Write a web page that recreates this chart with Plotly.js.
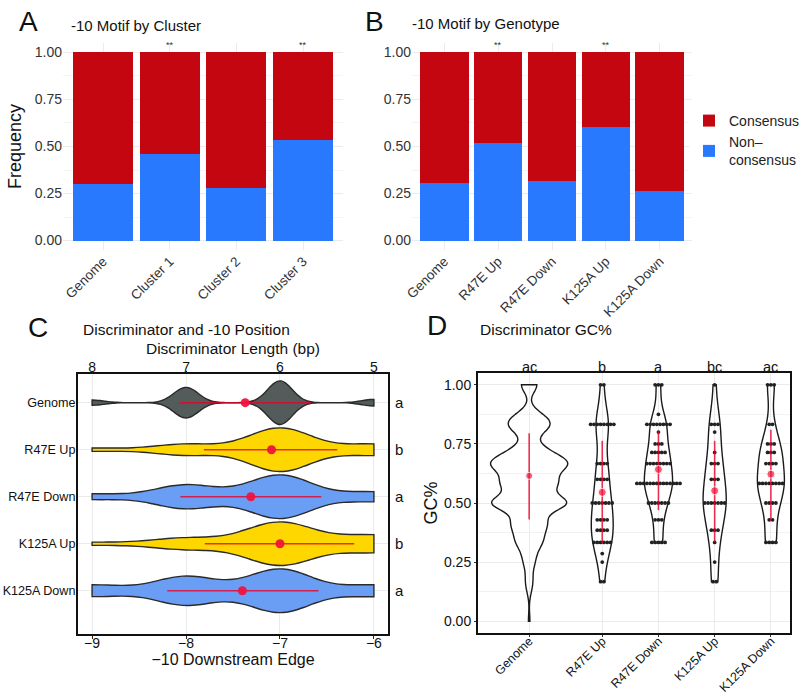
<!DOCTYPE html>
<html>
<head>
<meta charset="utf-8">
<script src="https://cdn.plot.ly/plotly-3.0.1.min.js"></script>
<style>
  html, body { margin: 0; padding: 0; background: #fff; }
  #plot01 { width: 800px; height: 695px; }
</style>
</head>
<body>
<div id="plot01"></div>
<script>
// A: -10 motif by cluster (fraction non-consensus)
const clusterNames = ['Genome', 'Cluster 1', 'Cluster 2', 'Cluster 3'];
const clusterNonConsensus = [0.30, 0.46, 0.28, 0.535];
const clusterSig = ['', '**', '', '**'];

// B: -10 motif by genotype
const genotypeNames = ['Genome', 'R47E Up', 'R47E Down', 'K125A Up', 'K125A Down'];
const genotypeNonConsensus = [0.305, 0.52, 0.315, 0.605, 0.265];
const genotypeSig = ['', '**', '', '**', ''];

// C: -10 downstream edge, counts per position
const edgePositions = [-9, -8, -7, -6];
const edgeCounts = [
    [12, 70, 100, 15],   // Genome
    [2, 7, 27, 7],       // R47E Up
    [4, 17, 31, 7],      // R47E Down
    [1, 4, 15, 6],       // K125A Up
    [4, 10, 15, 4],      // K125A Down
];
const edgeMean = [-7.37, -7.09, -7.31, -7.00, -7.40];
const edgeLow = [-8.07, -7.81, -8.06, -7.80, -8.20];
const edgeHigh = [-6.67, -6.39, -6.56, -6.21, -6.59];
const edgeLetters = ['a', 'b', 'a', 'b', 'a'];
const lengthTicks = [8, 7, 6, 5];

// D: discriminator GC%, counts per GC level
const gcGenomeLevels = [1, 0.875, 0.857, 0.833, 0.8, 0.75, 0.714, 0.667, 0.625, 0.6, 0.571, 0.5,
    0.429, 0.4, 0.375, 0.333, 0.286, 0.25, 0.2, 0.167, 0.143, 0.125, 0];
const gcGenomeCounts = [21, 14, 8, 36, 14, 8, 35, 80, 20, 25, 45, 95,
    28, 15, 15, 25, 8, 10, 4, 5, 2, 2, 2];
const gcR47EUpLevels = [1, 0.833, 0.667, 0.6, 0.5, 0.429, 0.385, 0.333, 0.286, 0.25, 0.167];
const gcR47EUpCounts = [2, 8, 4, 4, 7, 4, 4, 6, 1, 1, 2];
const gcR47EDownLevels = [1, 0.875, 0.833, 0.8, 0.75, 0.714, 0.667, 0.583, 0.5, 0.429, 0.333];
const gcR47EDownCounts = [3, 1, 8, 1, 3, 5, 8, 14, 7, 3, 5];
const gcK125AUpLevels = [1, 0.833, 0.8, 0.714, 0.667, 0.6, 0.5, 0.385, 0.333, 0.25, 0.167];
const gcK125AUpCounts = [1, 3, 1, 1, 3, 3, 7, 3, 1, 1, 2];
const gcK125ADownLevels = [1, 0.833, 0.75, 0.714, 0.667, 0.583, 0.5, 0.429, 0.333];
const gcK125ADownCounts = [3, 2, 3, 3, 4, 8, 4, 2, 4];
const gcMean = [0.615, 0.545, 0.642, 0.552, 0.622];
const gcLow = [0.43, 0.332, 0.47, 0.335, 0.425];
const gcHigh = [0.795, 0.763, 0.805, 0.763, 0.81];
const gcLetters = ['ac', 'b', 'a', 'bc', 'ac'];
const gcPositions = [0, 1.3, 2.3, 3.3, 4.3];

const RED = '#C3060F';
const BLUE = '#2979FF';
const FONT = 'Liberation Sans, Arial, sans-serif';
const GRID = '#EBEBEB';

function expand(levels, counts) {
    const out = [];
    levels.forEach((v, k) => { for (let i = 0; i < counts[k]; i++) out.push(v); });
    return out;
}

// paper coordinates from pixel positions
const px = v => v / 800;
const py = v => 1 - v / 695;

function initPlot() {
    const data = [];

    // ---- A & B stacked bars
    data.push({
        type: 'bar', x: clusterNames, y: clusterNonConsensus,
        name: 'Non–<br>consensus', marker: { color: BLUE }, legendgroup: 'n',
        xaxis: 'x', yaxis: 'y', hoverinfo: 'skip'
    });
    data.push({
        type: 'bar', x: clusterNames, y: clusterNonConsensus.map(v => 1 - v),
        name: 'Consensus', marker: { color: RED }, legendgroup: 'c',
        xaxis: 'x', yaxis: 'y', hoverinfo: 'skip'
    });
    data.push({
        type: 'bar', x: genotypeNames, y: genotypeNonConsensus,
        name: 'Non–<br>consensus', marker: { color: BLUE }, showlegend: false,
        xaxis: 'x2', yaxis: 'y2', hoverinfo: 'skip'
    });
    data.push({
        type: 'bar', x: genotypeNames, y: genotypeNonConsensus.map(v => 1 - v),
        name: 'Consensus', marker: { color: RED }, showlegend: false,
        xaxis: 'x2', yaxis: 'y2', hoverinfo: 'skip'
    });

    // ---- C horizontal violins
    const edgeFill = ['#535B5B', '#FFD700', '#6A9EF5', '#FFD700', '#6A9EF5'];
    const edgeBw = [0.13, 0.33, 0.33, 0.36, 0.33];
    genotypeNames.forEach((name, i) => {
        const xs = expand(edgePositions, edgeCounts[i]);
        data.push({
            type: 'violin', orientation: 'h', x: xs, y: xs.map(() => name),
            xaxis: 'x3', yaxis: 'y3', showlegend: false, hoverinfo: 'skip',
            points: false, box: { visible: false }, meanline: { visible: false },
            spanmode: 'hard', bandwidth: edgeBw[i], scalemode: 'width', width: 0.925,
            fillcolor: edgeFill[i], line: { color: '#2A2A2A', width: 1.4 }, opacity: 1
        });
    });
    data.push({
        type: 'scatter', mode: 'markers', x: edgeMean, y: genotypeNames,
        xaxis: 'x3', yaxis: 'y3', showlegend: false, hoverinfo: 'skip',
        marker: { color: 'rgba(240,20,60,0.95)', size: 9 },
        error_x: {
            type: 'data', symmetric: false,
            array: edgeHigh.map((v, i) => v - edgeMean[i]),
            arrayminus: edgeLow.map((v, i) => edgeMean[i] - v),
            color: 'rgba(232,0,40,0.8)', thickness: 1.6, width: 0
        }
    });
    // carries the top axis
    data.push({
        type: 'scatter', mode: 'markers', x: lengthTicks, y: genotypeNames.slice(0, 4),
        xaxis: 'x4', yaxis: 'y3', showlegend: false, hoverinfo: 'skip',
        marker: { opacity: 0 }
    });

    // ---- D vertical violins with dots
    const gcSets = [
        [gcGenomeLevels, gcGenomeCounts],
        [gcR47EUpLevels, gcR47EUpCounts],
        [gcR47EDownLevels, gcR47EDownCounts],
        [gcK125AUpLevels, gcK125AUpCounts],
        [gcK125ADownLevels, gcK125ADownCounts],
    ];
    const gcBw = [0.033, 0.075, 0.06, 0.08, 0.065];
    const gcWidth = [1.37, 0.39, 0.5, 0.41, 0.48];
    const dotPitch = 0.059;
    gcSets.forEach(([levels, counts], i) => {
        const ys = expand(levels, counts);
        data.push({
            type: 'violin', orientation: 'v', y: ys, x: ys.map(() => gcPositions[i]),
            xaxis: 'x5', yaxis: 'y5', showlegend: false, hoverinfo: 'skip',
            points: false, box: { visible: false }, meanline: { visible: false },
            spanmode: 'hard', bandwidth: gcBw[i], scalemode: 'width', width: gcWidth[i],
            fillcolor: 'rgba(255,255,255,0)', line: { color: '#1A1A1A', width: 1.4 }
        });
        if (i === 0) return;
        const dx = [], dy = [];
        levels.forEach((lv, k) => {
            const n = counts[k];
            for (let j = 0; j < n; j++) {
                dx.push(gcPositions[i] + (j - (n - 1) / 2) * dotPitch);
                dy.push(lv);
            }
        });
        data.push({
            type: 'scatter', mode: 'markers', x: dx, y: dy,
            xaxis: 'x5', yaxis: 'y5', showlegend: false, hoverinfo: 'skip',
            marker: { color: '#222', size: 3.8 }
        });
    });
    data.push({
        type: 'scatter', mode: 'markers', x: gcPositions, y: gcMean,
        xaxis: 'x5', yaxis: 'y5', showlegend: false, hoverinfo: 'skip',
        marker: { color: 'rgb(240,20,60)', size: [7, 8, 8, 8, 8] },
        error_y: {
            type: 'data', symmetric: false,
            array: gcHigh.map((v, i) => v - gcMean[i]),
            arrayminus: gcLow.map((v, i) => gcMean[i] - v),
            color: 'rgba(232,0,40,0.8)', thickness: 1.6, width: 0
        }
    });

    const barY = {
        range: [-0.05, 1.05], tickvals: [0, 0.25, 0.5, 0.75, 1], tickformat: '.2f',
        showgrid: true, gridcolor: GRID, zeroline: false, showline: false, ticks: '',
        minor: { dtick: 0.125, tick0: 0, showgrid: true, gridcolor: '#F4F4F4' },
        tickfont: { size: 14, color: '#333' }, fixedrange: true, automargin: false
    };
    const barX = {
        type: 'category', showgrid: true, gridcolor: GRID, ticks: '', tickangle: -45,
        tickfont: { size: 13.5, color: '#333' }, fixedrange: true, automargin: false
    };

    const annotations = [];
    const addText = (x, y, text, size, opts) => annotations.push(Object.assign({
        xref: 'paper', yref: 'paper', x: px(x), y: py(y), text: text, showarrow: false,
        font: { size: size, color: '#111', family: FONT }, xanchor: 'left', yanchor: 'middle'
    }, opts || {}));

    addText(28, 22, 'A', 28, { xanchor: 'center' });
    addText(374, 22, 'B', 28, { xanchor: 'center' });
    addText(38, 327, 'C', 28, { xanchor: 'center' });
    addText(437, 325, 'D', 28, { xanchor: 'center' });
    addText(69, 25, '-10 Motif by Cluster', 15);
    addText(410, 24, '-10 Motif by Genotype', 15);
    addText(81, 329, 'Discriminator and -10 Position', 15.5);
    addText(478, 329, 'Discriminator GC%', 15.5);

    clusterSig.forEach((s, i) => {
        if (s) annotations.push({
            xref: 'x', yref: 'paper', x: clusterNames[i], y: py(38), text: s, showarrow: false,
            font: { size: 9, color: '#333', family: FONT }
        });
    });
    genotypeSig.forEach((s, i) => {
        if (s) annotations.push({
            xref: 'x2', yref: 'paper', x: genotypeNames[i], y: py(38), text: s, showarrow: false,
            font: { size: 9, color: '#333', family: FONT }
        });
    });
    edgeLetters.forEach((s, i) => annotations.push({
        xref: 'x3 domain', yref: 'y3', x: 1.015, y: genotypeNames[i], text: s, showarrow: false,
        xanchor: 'left', font: { size: 15, color: '#111', family: FONT }
    }));
    gcLetters.forEach((s, i) => annotations.push({
        xref: 'x5', yref: 'y5 domain', x: gcPositions[i], y: 1.0, text: s, showarrow: false,
        yanchor: 'bottom', yshift: -4, font: { size: 14.5, color: '#111', family: FONT }
    }));

    const layout = {
        width: 800, height: 695,
        margin: { l: 0, r: 0, t: 0, b: 0, autoexpand: false },
        font: { family: FONT, color: '#111' },
        paper_bgcolor: 'white', plot_bgcolor: 'white',
        barmode: 'stack', bargap: 0.1, violinmode: 'overlay',
        showlegend: true,
        legend: {
            x: px(689), y: py(105), xanchor: 'left', yanchor: 'top',
            traceorder: 'reversed', font: { size: 14, color: '#222' },
            tracegroupgap: 26, itemwidth: 30
        },
        xaxis: Object.assign({}, barX, { domain: [px(63), px(343)], anchor: 'y', range: [-0.6, 3.6] }),
        yaxis: Object.assign({}, barY, {
            domain: [py(250), py(43)], anchor: 'x',
            title: { text: 'Frequency', font: { size: 18, color: '#111' }, standoff: 8 }
        }),
        xaxis2: Object.assign({}, barX, { domain: [px(412), px(692)], anchor: 'y2', range: [-0.6, 4.6] }),
        yaxis2: Object.assign({}, barY, { domain: [py(250), py(43)], anchor: 'x2' }),
        xaxis3: {
            domain: [px(78), px(388)], anchor: 'y3', range: [-9.15, -5.85],
            tickvals: [-9, -8, -7, -6], ticks: 'outside', ticklen: 3, tickcolor: '#222',
            ticklabelstandoff: -8,
            showline: true, mirror: true, linecolor: '#111', linewidth: 2,
            showgrid: true, gridcolor: GRID, zeroline: false,
            tickfont: { size: 14, color: '#111' },
            title: { text: '−10 Downstream Edge', font: { size: 16, color: '#111' }, standoff: 1 },
            fixedrange: true, automargin: false
        },
        xaxis4: {
            overlaying: 'x3', anchor: 'y3', side: 'top', range: [8.15, 4.85],
            tickvals: lengthTicks, ticks: 'outside', ticklen: 2, tickcolor: '#222',
            ticklabelstandoff: -7,
            showline: false, showgrid: false, zeroline: false,
            tickfont: { size: 14, color: '#111' },
            title: { text: 'Discriminator Length (bp)', font: { size: 15.5, color: '#111' }, standoff: 0 },
            fixedrange: true, automargin: false
        },
        yaxis3: {
            domain: [py(634), py(374)], anchor: 'x3', type: 'category',
            categoryorder: 'array', categoryarray: genotypeNames, range: [4.92, -0.61],
            showline: true, mirror: true, linecolor: '#111', linewidth: 2,
            showgrid: true, gridcolor: GRID, ticks: '', zeroline: false,
            ticklabelstandoff: -2,
            tickfont: { size: 12.6, color: '#111' }, fixedrange: true, automargin: false
        },
        xaxis5: {
            domain: [px(478), px(790)], anchor: 'y5', range: [-0.91, 4.64],
            tickvals: gcPositions, ticktext: genotypeNames, tickangle: -45,
            ticks: 'outside', ticklen: 2, tickcolor: '#333', ticklabelstandoff: -8,
            showline: true, mirror: true, linecolor: '#111', linewidth: 2,
            showgrid: true, gridcolor: GRID, zeroline: false,
            tickfont: { size: 12.4, color: '#111' }, fixedrange: true, automargin: false
        },
        yaxis5: {
            domain: [py(633), py(373)], anchor: 'x5', range: [-0.05, 1.05],
            tickvals: [0, 0.25, 0.5, 0.75, 1], tickformat: '.2f',
            ticks: 'outside', ticklen: 2, tickcolor: '#333',
            showline: true, mirror: true, linecolor: '#111', linewidth: 2,
            showgrid: true, gridcolor: GRID, zeroline: false,
            minor: { dtick: 0.125, tick0: 0, showgrid: true, gridcolor: '#F2F2F2' },
            tickfont: { size: 14, color: '#111' },
            title: { text: 'GC%', font: { size: 18, color: '#111' }, standoff: 2 },
            fixedrange: true, automargin: false
        },
        annotations: annotations
    };

    const config = { displayModeBar: false, responsive: false, staticPlot: true };

    Plotly.newPlot('plot01', data, layout, config);
}

window.addEventListener('load', () => initPlot());
</script>
</body>
</html>
